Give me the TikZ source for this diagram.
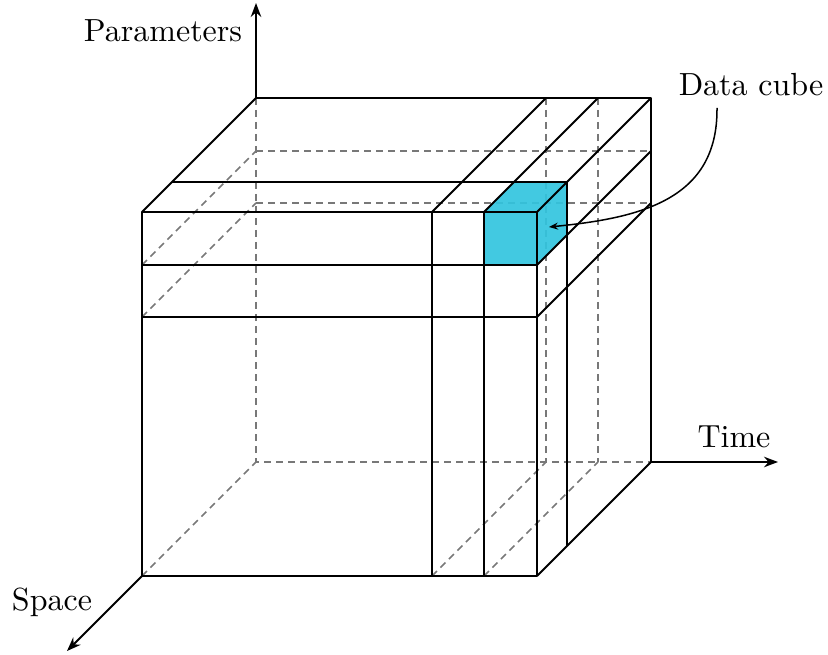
\documentclass[tikz,border=0pt]{standalone}
\usepackage{fontspec}
\setmainfont{lmroman10-regular.otf}
\usetikzlibrary{arrows.meta}
\definecolor{cubecyan}{RGB}{50,196,222}
\definecolor{hidgray}{RGB}{120,120,120}
\begin{document}
\begin{tikzpicture}[x=1pt,y=-1pt,
  solidline/.style={line width=1.8pt,black,line join=round},
  hiddenline/.style={line width=1.6pt,hidgray,dash pattern=on 7pt off 5pt},
  axisarrow/.style={line width=1.8pt,-{Stealth[length=14pt,width=10.5pt]}},
  lbl/.style={inner sep=0pt,font=\fontsize{32}{38}\selectfont}]
\useasboundingbox (0,0) rectangle (828,655);
% front face corners
\coordinate (fA) at (142,212); \coordinate (fB) at (537,212);
\coordinate (fC) at (537,576); \coordinate (fD) at (142,576);
% back face corners
\coordinate (bA) at (256,98); \coordinate (bB) at (651,98);
\coordinate (bC) at (651,462); \coordinate (bD) at (256,462);
% parameter levels
\coordinate (fL1) at (142,265); \coordinate (fL2) at (142,317);
\coordinate (fR1) at (537,265); \coordinate (fR2) at (537,317);
\coordinate (bL1) at (256,151); \coordinate (bL2) at (256,203);
\coordinate (bR1) at (651,151); \coordinate (bR2) at (651,203);
% time slices
\coordinate (fT1) at (432,212); \coordinate (fT2) at (484,212);
\coordinate (fB1) at (432,576); \coordinate (fB2) at (484,576);
\coordinate (bT1) at (546,98); \coordinate (bT2) at (598,98);
\coordinate (bB1) at (546,462); \coordinate (bB2) at (598,462);
% depth slice
\coordinate (sL) at (172,182); \coordinate (sR) at (567,182);
\coordinate (sB) at (567,546); \coordinate (sM) at (514,182);
\coordinate (sC) at (567,235); \coordinate (cBL) at (484,265);
% axis ends
\coordinate (pEnd) at (256,3);
\coordinate (tEnd) at (778,462);
\coordinate (spEnd) at (67,651);

% hidden lines
\draw[hiddenline] (bA) -- (bD) -- (bC);
\draw[hiddenline] (fD) -- (bD);
\draw[hiddenline] (bL1) -- (bR1);
\draw[hiddenline] (bL2) -- (bR2);
\draw[hiddenline] (fL1) -- (bL1);
\draw[hiddenline] (fL2) -- (bL2);
\draw[hiddenline] (bT1) -- (bB1);
\draw[hiddenline] (bT2) -- (bB2);
\draw[hiddenline] (fB1) -- (bB1);
\draw[hiddenline] (fB2) -- (bB2);

% data cube
\fill[cubecyan,fill opacity=0.92] (fT2) -- (fB) -- (fR1) -- (cBL) -- cycle;
\fill[cubecyan,fill opacity=0.92] (fT2) -- (fB) -- (sR) -- (sM) -- cycle;
\fill[cubecyan,fill opacity=0.92] (fB) -- (sR) -- (sC) -- (fR1) -- cycle;

% visible lines
\draw[solidline] (fA) rectangle (fC);
\draw[solidline] (fL1) -- (fR1);
\draw[solidline] (fL2) -- (fR2);
\draw[solidline] (fT1) -- (fB1);
\draw[solidline] (fT2) -- (fB2);
\draw[solidline] (fA) -- (bA) -- (bB) -- (bC) -- (fC);
\draw[solidline] (fB) -- (bB);
\draw[solidline] (fT1) -- (bT1);
\draw[solidline] (fT2) -- (bT2);
\draw[solidline] (sL) -- (sR) -- (sB);
\draw[solidline] (fR1) -- (bR1);
\draw[solidline] (fR2) -- (bR2);

% axes
\draw[axisarrow] (bA) -- (pEnd);
\draw[axisarrow] (bC) -- (tEnd);
\draw[axisarrow] (fD) -- (spEnd);

% labels
\node[lbl,anchor=base] (lparam) at (163,42) {Parameters};
\node[lbl,anchor=base] (ltime) at (734,447) {Time};
\node[lbl,anchor=base] (lspace) at (52,610) {Space};
\node[lbl,anchor=base] (ldata) at (751,96) {Data cube};
\coordinate (dStart) at (717,108);
\coordinate (dEnd) at (549,227);
\draw[line width=1.5pt,-{Stealth[length=9pt,width=7pt]}] (dStart) .. controls (718,200) and (640,218) .. (dEnd);
\end{tikzpicture}
\end{document}
